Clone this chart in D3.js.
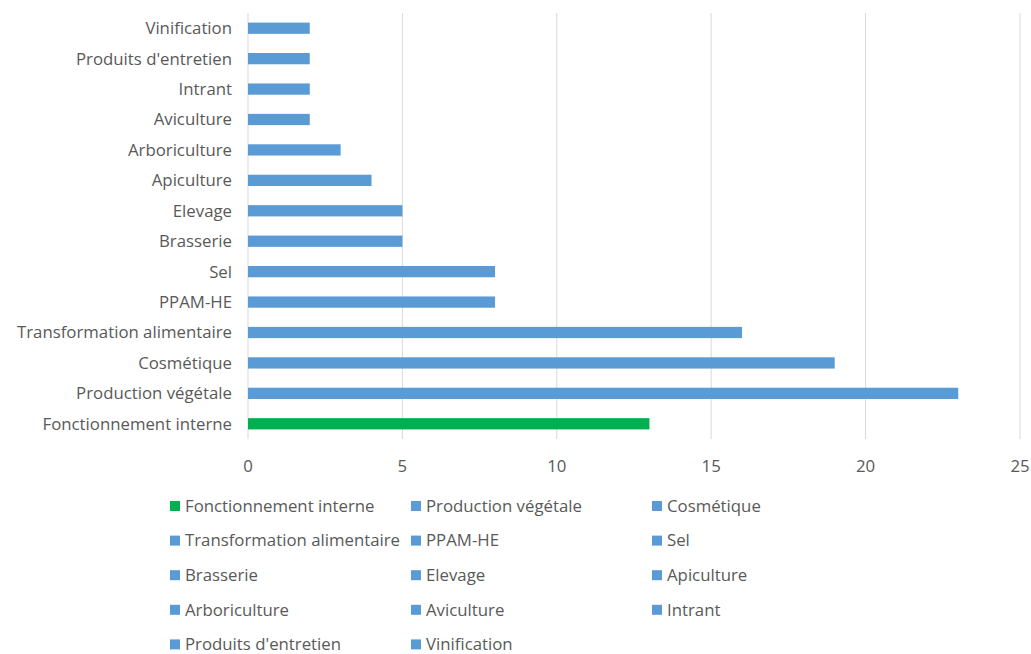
<!DOCTYPE html>
<html>
<head>
<meta charset="utf-8">
<script src="https://cdn.jsdelivr.net/npm/d3@7"></script>
<style>
  body { margin: 0; background: #fff; }
  svg text { font-family: "Open Sans", sans-serif; fill: #595959; }
</style>
</head>
<body>
<div id="chart"></div>
<script>
// catégories, de haut en bas
const categories = ["Vinification", "Produits d'entretien", "Intrant", "Aviculture", "Arboriculture",
  "Apiculture", "Elevage", "Brasserie", "Sel", "PPAM-HE", "Transformation alimentaire",
  "Cosmétique", "Production végétale", "Fonctionnement interne"];
const values = [2, 2, 2, 2, 3, 4, 5, 5, 8, 8, 16, 19, 23, 13];
const xTicks = [0, 5, 10, 15, 20, 25];
// ordre de la légende
const legendItems = ["Fonctionnement interne", "Production végétale", "Cosmétique",
  "Transformation alimentaire", "PPAM-HE", "Sel", "Brasserie", "Elevage", "Apiculture",
  "Arboriculture", "Aviculture", "Intrant", "Produits d'entretien", "Vinification"];

const blue = "#5b9bd5", green = "#00b050";
const colorOf = (name) => (name === "Fonctionnement interne" ? green : blue);

const width = 1031, height = 654;
const margin = { top: 13, left: 248, right: 11, bottom: 215 };
const fontSize = 16.8;

const svg = d3.select("#chart").append("svg")
  .attr("width", width).attr("height", height);

const x = d3.scaleLinear().domain([0, 25]).range([margin.left, width - margin.right]);
const y = d3.scaleBand().domain(categories)
  .range([margin.top, height - margin.bottom]).paddingInner(0.63).paddingOuter(0.315);

// grille verticale
svg.append("g").selectAll("line").data(xTicks).join("line")
  .attr("x1", (d) => x(d)).attr("x2", (d) => x(d))
  .attr("y1", margin.top).attr("y2", height - margin.bottom)
  .attr("stroke", "#d9d9d9").attr("stroke-width", 1);

// barres
svg.append("g").selectAll("rect").data(categories).join("rect")
  .attr("x", x(0))
  .attr("y", (d) => y(d))
  .attr("width", (d, i) => x(values[i]) - x(0))
  .attr("height", y.bandwidth())
  .attr("fill", (d) => colorOf(d));

// libellés des catégories
svg.append("g").selectAll("text").data(categories).join("text")
  .attr("x", margin.left - 16)
  .attr("y", (d) => y(d) + y.bandwidth() / 2)
  .attr("dy", "0.35em")
  .attr("text-anchor", "end")
  .attr("font-size", fontSize)
  .text((d) => d);

// axe x
svg.append("g").selectAll("text").data(xTicks).join("text")
  .attr("x", (d) => x(d))
  .attr("y", 466)
  .attr("dy", "0.35em")
  .attr("text-anchor", "middle")
  .attr("font-size", fontSize)
  .text((d) => d);

// légende
const colX = [170, 411, 652];
const leg = svg.append("g").selectAll("g").data(legendItems).join("g")
  .attr("transform", (d, i) => `translate(${colX[i % 3]},${506 + Math.floor(i / 3) * 34.6})`);
leg.append("rect")
  .attr("x", 0).attr("y", -5).attr("width", 10).attr("height", 10)
  .attr("fill", (d) => colorOf(d));
leg.append("text")
  .attr("x", 15).attr("dy", "0.35em")
  .attr("font-size", fontSize)
  .text((d) => d);
</script>
</body>
</html>
